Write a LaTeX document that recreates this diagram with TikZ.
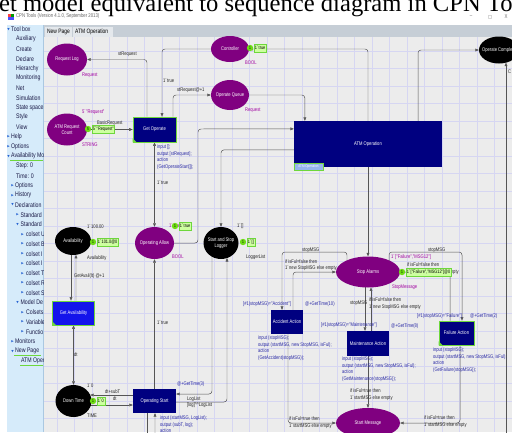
\documentclass[tikz,border=0pt]{standalone}
\usepackage{fontspec}
\usetikzlibrary{positioning,shapes.geometric,arrows.meta,calc}
\newfontfamily\cpnfont[FakeStretch=0.78]{Liberation Sans}
\newfontfamily\headfont{Liberation Serif}
\newfontfamily\symfont{DejaVu Sans}
\newcommand{\cpnsize}[2]{\cpnfont\fontsize{#1}{#2}\selectfont}
\newcommand{\bq}{\textasciigrave}
\definecolor{cpnpurple}{RGB}{128,0,128}
\definecolor{cpnnavy}{RGB}{0,0,128}
\definecolor{cpnblue}{RGB}{20,20,235}
\definecolor{cpngreen}{RGB}{110,215,60}
\definecolor{tokgreen}{RGB}{110,220,20}
\definecolor{markfill}{RGB}{205,255,160}
\definecolor{arcgrey}{RGB}{85,85,85}
\definecolor{canvasbg}{RGB}{236,236,236}
\definecolor{gridline}{RGB}{214,214,242}
\definecolor{sidebg}{RGB}{214,235,250}
\definecolor{sideedge}{RGB}{170,200,225}
\definecolor{tabbar}{RGB}{198,206,214}
\definecolor{tabfill}{RGB}{228,232,236}
\definecolor{inscr}{RGB}{40,40,165}
\definecolor{cslabel}{RGB}{160,0,160}
\definecolor{treetext}{RGB}{25,25,70}
\definecolor{treeblue}{RGB}{40,100,210}
\definecolor{subfill}{RGB}{150,180,238}
\pgfdeclarelayer{under}
\pgfsetlayers{under,main}

\begin{document}
\begin{tikzpicture}[x=0.05cm, y=-0.05cm,
    pl/.style={ellipse, fill=cpnpurple, inner sep=0pt, label={[pltext]center:#1}},
    blackpl/.style={pl=#1, fill=black},
    pltext/.style={text=white, align=center, font=\cpnsize{7.5}{8.5}},
    tr/.style={rectangle, fill=cpnnavy, text=white, inner sep=0pt, align=center, font=\cpnsize{7.5}{8.5}},
    hl/.style={draw=cpngreen, line width=0.9pt},
    cpnarc/.style={draw=arcgrey, line width=0.7pt, rounded corners=0.15cm, -{Triangle[length=5pt,width=4pt]}},
    bothways/.style={cpnarc, {Triangle[length=5pt,width=4pt]}-{Triangle[length=5pt,width=4pt]}},
    cpnline/.style={draw=arcgrey, line width=0.7pt},
    lbl/.style={anchor=west, inner sep=0pt, align=left, text=black!85, font=\cpnsize{7.5}{9.3}},
    code/.style={lbl, anchor=north west, text=inscr, font=\cpnsize{7.5}{9.5}},
    guard/.style={lbl, text=inscr},
    cs/.style={lbl, text=cslabel},
    tok/.style={circle, fill=tokgreen, inner sep=0pt, minimum size=0.32cm, font=\cpnsize{6}{6}},
    markbox/.style={rectangle, fill=markfill, draw=cpngreen, line width=0.5pt, inner xsep=1.2pt, inner ysep=0pt, minimum height=0.42cm, font=\cpnsize{7}{7}},
    tree/.style={anchor=west, inner sep=0pt, text=treetext, font=\cpnsize{9.5}{10}},
    treetri/.style={inner sep=0pt, text=treeblue, font=\symfont\fontsize{4.5}{5}\selectfont},
]
\useasboundingbox (0,0) rectangle (512,432);
\clip (0,0) rectangle (512,432);

% Window and canvas
\begin{pgfonlayer}{under}
  \fill[white] (0,0) rectangle (512,432);
  \fill[sidebg] (7,25) rectangle (43.5,432);
  \draw[sideedge] (43.5,25) -- (43.5,432);
  \fill[tabbar] (43.5,25) rectangle (512,37);
  \fill[canvasbg] (44,37) rectangle (512,432);
  \foreach \gx in {56.8,74.3,...,512}
    \draw[gridline, line width=0.5pt] (\gx,37) -- (\gx,432);
  \foreach \gy in {50.7,68.2,...,432}
    \draw[gridline, line width=0.5pt] (44,\gy) -- (512,\gy);
  \fill[tabfill] (45,27) rectangle (72,37);
  \fill[tabfill] (73,27) rectangle (113,37);
\end{pgfonlayer}

\node[anchor=base west, inner sep=0pt, font=\headfont\fontsize{35}{35}\selectfont] (title) at (-1,11) {et model equivalent to sequence diagram in CPN Tools};
\fill[red!75] (8,14) rectangle (11,17);
\fill[green!60!black] (11,14) rectangle (14,17);
\fill[blue!70] (8,17) rectangle (14,19.5);
\node[anchor=west, inner sep=0pt, text=black!60, font=\cpnsize{7.8}{8}] (wintitle) at (16,16.5) {CPN Tools (Version 4.1.0, September 2013)};
\node[inner sep=0pt, text=black!60, font=\cpnsize{8}{8}] (wmin) at (471,17) {–};
\node[inner sep=0pt, text=black!60, font=\symfont\fontsize{6}{6}\selectfont] (wmax) at (490,17) {□};
\node[inner sep=0pt, text=black!60, font=\cpnsize{8}{8}] (wclose) at (506,17) {X};
\node[anchor=west, inner sep=0pt, font=\cpnsize{9}{9}] (tabnew) at (47,32) {New Page};
\node[anchor=west, inner sep=0pt, font=\cpnsize{9}{9}] (tabatm) at (75,32) {ATM Operation};

% Tool box tree
\begin{scope}
  \clip (7,25) rectangle (43.3,432);
  \foreach \tx/\txt [count=\k from 0] in {11/Tool box,16/Auxiliary,16/Create,16/Declare,16/Hierarchy,16/Monitoring,16/Net,16/Simulation,16/State space,16/Style,16/View,11/Help,11/Options,11/Availability Mo,16/Step: 0,16/Time: 0,15/Options,15/History,15/Declaration,20.5/Standard,20.5/Standard,26/colset U,26/colset B,26/colset I,26/colset I,26/colset T,26/colset R,26/colset S,20.5/Model De,26/Colsets,26/Variable,26/Functio,15/Monitors,15/New Page,21/ATM Oper}
    \node[tree] (item\k) at (\tx,{29.5+9.75*\k}) {\txt};
  \foreach \k/\tx in {0/8.5,13/8.5,18/12.5,20/17.5,28/17.5,33/12.5}
    \node[treetri] (dn\k) at (\tx,{29.5+9.75*\k}) {▼};
  \foreach \k/\tx in {11/8.5,12/8.5,16/12.5,17/12.5,19/17.5,21/22.5,22/22.5,23/22.5,24/22.5,25/22.5,26/22.5,27/22.5,29/22.5,30/22.5,31/22.5,32/12.5}
    \node[treetri] (rt\k) at (\tx,{29.5+9.75*\k}) {▶};
  \draw[cpngreen, line width=0.8pt] (10,160) -- (43,160);
  \draw[cpngreen, line width=0.8pt] (14,355) -- (41,355);
  \draw[cpngreen, line width=0.8pt] (20,365) -- (43,365);
\end{scope}

% Places
\node[pl={Request Log}, minimum width=2cm, minimum height=1.6cm] (reqlog) at (67,59.5) {};
\node[pl={ATM Request\\Count}, minimum width=2cm, minimum height=1.6cm] (reqcount) at (67,129.5) {};
\node[pl={Controller}, minimum width=1.9cm, minimum height=1.3cm] (controller) at (230,49) {};
\node[pl={Operate Queue}, minimum width=1.9cm, minimum height=1.5cm] (opqueue) at (230,95) {};
\node[blackpl={Operate Complete}, minimum width=2cm, minimum height=1.35cm] (opcomplete) at (499,50) {};
\node[blackpl={Availability}, minimum width=1.8cm, minimum height=1.4cm] (avail) at (73,241) {};
\node[pl={Operating Allow}, minimum width=1.95cm, minimum height=1.6cm] (opallow) at (154.5,243) {};
\node[blackpl={Start and Stop\\Logger}, minimum width=1.75cm, minimum height=1.6cm] (logger) at (221,243) {};
\node[pl={Stop Alarms}, minimum width=3.2cm, minimum height=1.55cm] (stopalarms) at (368,272) {};
\node[pl={Start Message}, minimum width=3.2cm, minimum height=1.5cm] (startmsg) at (368,423) {};
\node[blackpl={Down Time}, minimum width=1.8cm, minimum height=1.6cm] (downtime) at (73.5,401) {};

% Transitions
\node[tr, hl, minimum width=2.15cm, minimum height=1.25cm] (getop) at (154.5,129.5) {Get Operate};
\node[tr, minimum width=7.4cm, minimum height=2.3cm] (atmop) at (368,144) {ATM Operation};
\node[tr, hl, fill=cpnblue, minimum width=2.1cm, minimum height=1.2cm] (getavail) at (73.5,313) {Get Availability};
\node[tr, minimum width=2.15cm, minimum height=1.2cm] (opstart) at (154.5,401) {Operating Start};
\node[tr, minimum width=1.6cm, minimum height=1.2cm] (accident) at (287,322) {Accident Action};
\node[tr, minimum width=2.1cm, minimum height=1.25cm] (maint) at (368,343.5) {Maintenance Action};
\node[tr, hl, minimum width=1.75cm, minimum height=1.2cm] (failure) at (456.5,333) {Failure Action};
\fill[cpngreen] (getop.south west) -- ++(4,0) -- ++(-4,-4) -- cycle;
\fill[cpngreen] (getavail.south west) -- ++(4,0) -- ++(-4,-4) -- cycle;
\fill[cpngreen] (failure.south west) -- ++(4,0) -- ++(-4,-4) -- cycle;
\node[draw=cpngreen, line width=0.4pt, fill=subfill, text=white, inner sep=0pt, minimum width=1.45cm, minimum height=0.35cm, font=\cpnsize{5.5}{6}] (subtag) at (308.5,166.5) {ATM Operation};

% Inscriptions
\node[lbl] (lstreq) at (118,54) {stRequest};
\node[cs] (csreqlog) at (82,75) {Request};
\node[cs] (imreqcount) at (82,112) {5\bq"Request"};
\node[lbl] (lbasic) at (97,123) {BasicRequest};
\node[tok] (tokreq) at (88,129) {5};
\node[markbox, right=0.3mm of tokreq] (mkreq) {5\bq"Request"};
\node[cs] (csreqcount) at (82,144.5) {STRING};
\node[lbl] (lctrl) at (163,81) {1\bq true};
\node[lbl] (lqueue) at (177,90) {stRequest@+1};
\node[tok] (tokctrl) at (250,48) {1};
\node[markbox, right=0.3mm of tokctrl] (mkctrl) {1\bq true};
\node[cs] (csctrl) at (245,63) {BOOL};
\node[cs] (csqueue) at (245,110) {Request};
\node[lbl] (cscompl) at (508,72) {C};
\node[code] (codegetop) at (157,144.5) {input [];\\output [stRequest];\\action\\(GetOperateStart[]);};
\node[lbl] (lallow1) at (157,183) {1\bq true};
\node[lbl] (imavail) at (87,227) {1\bq 100.00};
\node[tok] (tokavail) at (93,242) {1};
\node[markbox, right=0.3mm of tokavail] (mkavail) {1\bq 101.0@0};
\node[lbl] (csavail) at (87,258) {Availability};
\node[lbl] (lgetavail) at (74,276) {GetAvail(lt) @+1};
\node[cs] (imallow) at (169,226) {1\bq true};
\node[tok] (tokallow) at (175,226) {1};
\node[markbox, right=0.3mm of tokallow] (mkallow) {1\bq true};
\node[cs] (csallow) at (172,257) {BOOL};
\node[lbl] (imlogger) at (237,226) {1\bq []};
\node[tok] (toklogger) at (243,242) {1};
\node[markbox, right=0.3mm of toklogger] (mklogger) {1\bq []};
\node[lbl] (cslogger) at (246,257) {LoggerList};
\node[lbl] (lallow2) at (157,323) {1\bq true};
\node[lbl] (ldt1) at (74,355) {dt};
\node[lbl] (imdown) at (87,386) {1\bq 0};
\node[tok] (tokdown) at (93,401) {1};
\node[markbox, right=0.3mm of tokdown] (mkdown) {1\bq 0};
\node[lbl] (csdown) at (87,416) {TIME};
\node[lbl] (ldtsub) at (105,391.5) {dt+subT};
\node[lbl] (ldt2) at (113,399) {dt};
\node[guard] (tstart) at (177,384) {@+GetTime(3)};
\node[lbl] (lloglist) at (187,402) {LogList\\{}[log]\textasciicircum\textasciicircum LogList};
\node[code] (codestart) at (160,415.5) {input (startMSG, LogList);\\output (subT, log);\\action};
\node[lbl] (lstop1) at (302,250) {stopMSG};
\node[lbl] (laccin) at (285,265.2) {if isFul=false then\\1\bq new StopMSG else empty};
\node[lbl] (lstop2) at (428,250) {stopMSG};
\node[cs] (imstop) at (391,257) {1\bq["Failure","MSG12"]};
\node[lbl] (lfailin) at (407,268.5) {if isFul=false then\\1\bq new StopMSG else empty};
\node[tok] (tokstop) at (402,272) {1};
\node[markbox, right=0.3mm of tokstop] (mkstop) {1\bq["Failure","MSG12"]@0};
\node[cs] (csstop) at (392,287) {StopMessage};
\node[guard] (gacc) at (243,304) {[\#1(stopMSG)="Accident"]};
\node[guard] (tacc) at (305,304) {@+GetTime(10)};
\node[code] (codeacc) at (258,335.5) {input (stopMSG);\\output (startMSG, new StopMSG, isFul);\\action\\(GetAccident(stopMSG));};
\node[lbl] (lstop3) at (350,303) {stopMSG};
\node[lbl] (lmaintin) at (369,303.5) {if isFul=false then\\1\bq new StopMSG else empty};
\node[guard] (gmaint) at (321,325) {[\#1(stopMSG)="Maintenance"]};
\node[guard] (tmaint) at (391,326) {@+GetTime(8)};
\node[code] (codemaint) at (342,356.5) {input (stopMSG);\\output (startMSG, new StopMSG, isFul);\\action\\(GetMaintenance(stopMSG));};
\node[guard] (gfail) at (417,316) {[\#1(stopMSG)="Failure"]};
\node[guard] (tfail) at (470,316) {@+GetTime(2)};
\node[code] (codefail) at (433,347.5) {input (stopMSG);\\output (startMSG, new StopMSG, isFul);\\action\\(GetFailure(stopMSG));};
\node[lbl] (lmaintout) at (350,394.5) {if isFul=true then\\1\bq startMSG else empty};
\node[lbl] (laccout) at (289,422.5) {if isFul=true then\\1\bq startMSG else empty};
\node[lbl] (lfailout) at (424,421.5) {if isFul=true then\\1\bq startMSG else empty};

% Arcs
\coordinate (offright) at (506,440);
\coordinate (offin) at (155,440);
\coordinate (offout) at (147,440);
\begin{pgfonlayer}{under}
  \draw[cpnarc] ($(getop.north)+(-7.5,0)$) |- (reqlog);
  \draw[cpnarc] (controller) -| ($(getop.north)+(7.5,0)$);
  \draw[cpnarc] ($(getop.north)+(18.5,0)$) |- (opqueue);
  \draw[cpnarc] (reqcount) -- (getop);
  \draw[cpnarc] (atmop.north) |- (controller);
  \draw[cpnarc] ($(atmop.north)+(50,0)$) |- (opcomplete);
  \draw[cpnarc] (offright) -- ($(opcomplete)+(7,12.6)$);
  \draw[cpnarc] (opqueue) -| ($(atmop.north west)+(11,0)$);
  \draw[cpnarc] (opallow) -| (198,129) -- ($(atmop.north west)+(0,8)$);
  \draw[cpnarc] ($(atmop.north west)+(0,29)$) -| (logger);
  \draw[bothways] (getop) -- (opallow);
  \draw[cpnarc] (opstart) -- (opallow);
  \draw[cpnarc] (offin) -- ($(opstart.south)+(0.5,0)$);
  \draw[cpnline] ($(opstart.south)+(-7.5,0)$) -- (offout);
  \draw[cpnarc] ($(logger)+(-9,0)$) |- ($(opstart.east)+(0,-7)$);
  \draw[cpnarc] ($(opstart.east)+(0,1)$) -| ($(logger)+(6,15)$);
  \draw[cpnarc] ($(avail)+(-2,0)$) -- ($(getavail.north)+(-2.5,0)$);
  \draw[cpnarc] ($(getavail.north)+(2.5,0)$) -- ($(avail)+(3,13.8)$);
  \draw[bothways] (getavail) -- (downtime);
  \draw[cpnarc] ($(opstart.west)+(0,-6)$) -- ($(downtime)+(16.7,-6)$);
  \draw[cpnarc] ($(downtime)+(0,4)$) -- ($(opstart.west)+(0,4)$);
  \draw[cpnarc] (atmop) -- (stopalarms);
  \draw[cpnarc] ($(stopalarms)+(-21,0)$) |- (282,252) -- ($(accident.north)+(-5,0)$);
  \draw[cpnarc] ($(accident.north)+(6,0)$) |- (stopalarms);
  \draw[cpnarc] ($(stopalarms)+(21,0)$) |- (462,252) -- ($(failure.north)+(5.5,0)$);
  \draw[cpnarc] ($(failure.north)+(-6.5,0)$) |- (stopalarms);
  \draw[cpnarc] ($(stopalarms)+(-3,0)$) -- ($(maint.north)+(-3,0)$);
  \draw[cpnarc] ($(maint.north)+(3,0)$) -- ($(stopalarms)+(3,15.4)$);
  \draw[cpnarc] (maint) -- (startmsg);
  \draw[cpnarc] ($(accident.south)+(1,0)$) |- (startmsg);
  \draw[cpnarc] ($(failure.south)+(3.5,0)$) |- (startmsg);
\end{pgfonlayer}
\end{tikzpicture}
\end{document}
